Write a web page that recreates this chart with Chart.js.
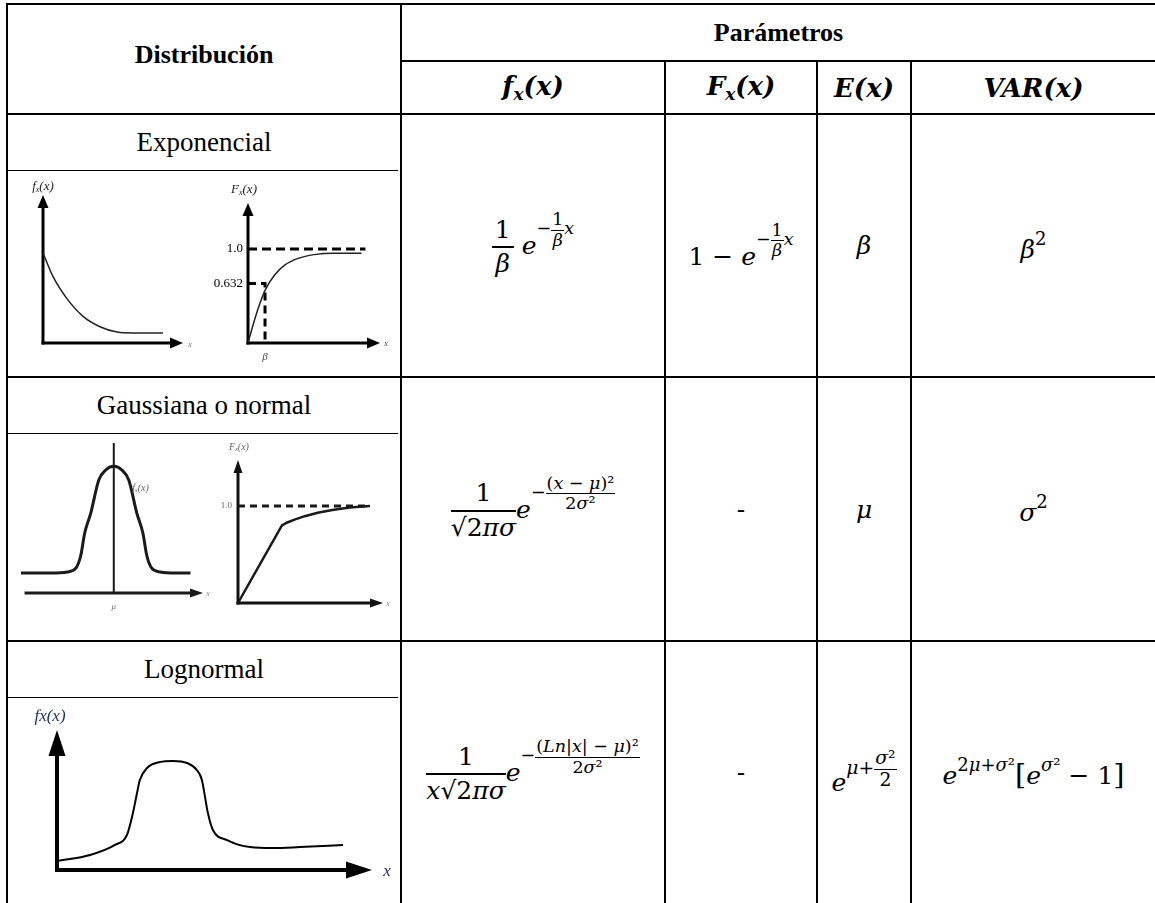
<!DOCTYPE html>
<html>
<head>
<meta charset="utf-8">
<script src="https://cdn.jsdelivr.net/npm/chart.js@4.4.0/dist/chart.umd.min.js"></script>
<style>
  body { margin: 0; background: #fff; width: 1155px; height: 903px; overflow: hidden; position: relative; font-family: "Liberation Serif", serif; color: #000; }
  .ln { position: absolute; background: #000; }
  .cell { position: absolute; display: flex; align-items: center; justify-content: center; text-align: center; white-space: nowrap; }
  .hd { font-weight: bold; font-size: 26px; }
  .lbl { font-size: 27px; }
  .m { font-family: "DejaVu Serif", serif; font-size: 25px; }
  .mh { font-family: "DejaVu Serif", serif; font-size: 26px; font-weight: bold; font-style: italic; }
  .mh sub { font-size: 0.65em; vertical-align: -0.3em; }
  .fr { display: inline-flex; flex-direction: column; vertical-align: middle; text-align: center; line-height: 1.3; }
  .fr > span:first-child { border-bottom: 2px solid #000; padding: 0 3px; }
  .sup { display: inline-block; font-size: 0.7em; vertical-align: 1.1em; }
  .sup .fr { line-height: 1.1; }
  .sup .fr > span:first-child { border-bottom-width: 1.5px; padding: 0 1px; }
  .sp { display: inline-block; font-size: 0.72em; vertical-align: 0.7em; }
  .ov { border-top: 1.5px solid #000; padding-top: 1px; }
  .big { font-size: 1.15em; }
  canvas { position: absolute; }
</style>
</head>
<body>
<!-- grid lines -->
<div class="ln" style="left:6px;top:3px;width:1149px;height:2px"></div>
<div class="ln" style="left:400px;top:60px;width:755px;height:2px"></div>
<div class="ln" style="left:6px;top:113px;width:1149px;height:2px"></div>
<div class="ln" style="left:6px;top:376px;width:1149px;height:2px"></div>
<div class="ln" style="left:6px;top:640px;width:1149px;height:2px"></div>
<div class="ln" style="left:6px;top:170px;width:392px;height:1px"></div>
<div class="ln" style="left:6px;top:433px;width:392px;height:1px"></div>
<div class="ln" style="left:6px;top:697px;width:392px;height:1px"></div>
<div class="ln" style="left:6px;top:3px;width:2px;height:900px"></div>
<div class="ln" style="left:400px;top:3px;width:2px;height:900px"></div>
<div class="ln" style="left:664px;top:60px;width:2px;height:843px"></div>
<div class="ln" style="left:816px;top:60px;width:2px;height:843px"></div>
<div class="ln" style="left:910px;top:60px;width:2px;height:843px"></div>

<!-- headers -->
<div class="cell hd" style="left:8px;top:5px;width:392px;height:100px">Distribución</div>
<div class="cell hd" style="left:402px;top:5px;width:753px;height:55px">Parámetros</div>
<div class="cell mh" style="left:402px;top:62px;width:262px;height:51px"><span>f<sub>x</sub>(x)</span></div>
<div class="cell mh" style="left:666px;top:62px;width:150px;height:51px"><span>F<sub>x</sub>(x)</span></div>
<div class="cell mh" style="left:818px;top:62px;width:92px;height:51px"><span>E(x)</span></div>
<div class="cell mh" style="left:912px;top:62px;width:243px;height:51px"><span>VAR(x)</span></div>

<!-- row labels -->
<div class="cell lbl" id="lab0" style="left:8px;top:115px;width:392px;height:55px"></div>
<div class="cell lbl" id="lab1" style="left:8px;top:378px;width:392px;height:55px"></div>
<div class="cell lbl" id="lab2" style="left:8px;top:642px;width:392px;height:55px"></div>

<!-- row 1: exponencial -->
<div class="cell m" style="left:402px;top:115px;width:262px;height:261px">
  <span><span class="fr"><span>1</span><span><i>β</i></span></span>&nbsp;<i>e</i><span class="sup">−<span class="fr"><span>1</span><span><i>β</i></span></span><i>x</i></span></span>
</div>
<div class="cell m" style="left:666px;top:115px;width:150px;height:261px">
  <span>1 − <i>e</i><span class="sup">−<span class="fr"><span>1</span><span><i>β</i></span></span><i>x</i></span></span>
</div>
<div class="cell m" style="left:818px;top:115px;width:92px;height:261px"><i>β</i></div>
<div class="cell m" style="left:912px;top:115px;width:243px;height:261px"><span><i>β</i><span class="sp">2</span></span></div>

<!-- row 2: gaussiana -->
<div class="cell m" style="left:402px;top:378px;width:262px;height:262px">
  <span><span class="fr"><span>1</span><span>√<span class="ov">2<i>π</i></span><i>σ</i></span></span><i>e</i><span class="sup">−<span class="fr"><span>(<i>x</i> − <i>μ</i>)²</span><span>2<i>σ</i>²</span></span></span></span>
</div>
<div class="cell m" style="left:666px;top:378px;width:150px;height:262px">-</div>
<div class="cell m" style="left:818px;top:378px;width:92px;height:262px"><i>μ</i></div>
<div class="cell m" style="left:912px;top:378px;width:243px;height:262px"><span><i>σ</i><span class="sp">2</span></span></div>

<!-- row 3: lognormal -->
<div class="cell m" style="left:402px;top:642px;width:262px;height:261px">
  <span><span class="fr"><span>1</span><span><i>x</i>√<span class="ov">2<i>π</i></span><i>σ</i></span></span><i>e</i><span class="sup">−<span class="fr"><span>(<i>Ln</i>|<i>x</i>| − <i>μ</i>)²</span><span>2<i>σ</i>²</span></span></span></span>
</div>
<div class="cell m" style="left:666px;top:642px;width:150px;height:261px">-</div>
<div class="cell m" style="left:818px;top:642px;width:92px;height:261px">
  <span><i>e</i><span class="sup" style="font-size:0.75em;vertical-align:0.9em"><i>μ</i>+<span class="fr"><span><i>σ</i>²</span><span>2</span></span></span></span>
</div>
<div class="cell m" style="left:912px;top:642px;width:243px;height:261px">
  <span><i>e</i><span class="sp">2<i>μ</i>+<i>σ</i>²</span><span class="big">[</span><i>e</i><span class="sp"><i>σ</i>²</span> − 1<span class="big">]</span></span>
</div>

<canvas id="expPdf" width="185" height="183" style="left:10px;top:172px"></canvas>
<canvas id="expCdf" width="200" height="197" style="left:200px;top:172px"></canvas>
<canvas id="gaussPdf" width="205" height="190" style="left:10px;top:435px"></canvas>
<canvas id="gaussCdf" width="195" height="195" style="left:205px;top:430px"></canvas>
<canvas id="logPdf" width="390" height="195" style="left:10px;top:700px"></canvas>

<script>
const distributions = ["Exponencial", "Gaussiana o normal", "Lognormal"];

// exponencial
const expPdfX = [0, 0.71, 1.71, 2.86, 4.07, 5.29, 6.43, 8.57];
const expPdfY = [0.61, 0.45, 0.30, 0.18, 0.11, 0.074, 0.068, 0.068];
const expCdfX = [0, 0.4, 0.8, 1.29, 2, 2.8, 3.8, 5, 6.5, 8.6];
const expCdfY = [0, 0.2, 0.38, 0.56, 0.72, 0.83, 0.9, 0.94, 0.955, 0.955];
const expTickValues = [1.0, 0.632];
const expTickLabels = ["1.0", "0.632"];
const betaX = 1.29;
const expLimitX = [0, 8.9];

// gaussiana
const gaussPdfX = [-5.2, -3.5, -2.6, -2.1, -1.85, -1.63, -1.29, -0.84, -0.45, 0, 0.45, 0.84, 1.29, 1.63, 1.85, 2.1, 2.6, 3.5, 4.3];
const gaussPdfY = [0.133, 0.133, 0.14, 0.17, 0.25, 0.40, 0.533, 0.753, 0.82, 0.845, 0.82, 0.753, 0.533, 0.40, 0.25, 0.17, 0.14, 0.133, 0.133];
const gaussCdfX = [0, 3.03, 3.4, 3.9, 4.6, 5.5, 6.5, 7.7, 9.1];
const gaussCdfY = [0, 0.80, 0.83, 0.86, 0.895, 0.93, 0.958, 0.985, 1.0];
const gaussLimitX = [0, 9.1];

// lognormal
const logPdfX = [0, 1.05, 1.84, 2.22, 2.41, 2.54, 2.63, 2.86, 3.27, 3.68, 4.13, 4.44, 4.60, 4.70, 4.79, 4.95, 5.40, 6.13, 6.86, 7.71, 9.08];
const logPdfY = [0.064, 0.107, 0.179, 0.25, 0.407, 0.55, 0.643, 0.729, 0.771, 0.779, 0.764, 0.714, 0.643, 0.521, 0.407, 0.286, 0.214, 0.164, 0.157, 0.164, 0.179];

distributions.forEach((d, i) => { document.getElementById("lab" + i).textContent = d; });

function pts(xs, ys) {
  return xs.map((x, i) => ({ x: x, y: ys[i] }));
}

function drawParts(ctx, parts, px, py, align) {
  let w = 0;
  parts.forEach(p => { ctx.font = p.font; w += ctx.measureText(p.t).width; });
  let cx = align === "right" ? px - w : align === "left" ? px : px - w / 2;
  parts.forEach(p => {
    ctx.font = p.font;
    ctx.fillText(p.t, cx, py + (p.dy || 0));
    cx += ctx.measureText(p.t).width;
  });
}

function fnLabel(letter, size) {
  const f = `italic ${size}px "Liberation Serif"`;
  const s = `italic ${Math.round(size * 0.6)}px "Liberation Serif"`;
  return [{ t: letter, font: f }, { t: "x", font: s, dy: size * 0.2 }, { t: "(x)", font: f }];
}

const sketchAxes = {
  id: "sketchAxes",
  beforeDatasetsDraw(chart, args, o) {
    const { ctx, chartArea: a, scales } = chart;
    const x0 = scales.x.getPixelForValue(0);
    const y0 = scales.y.getPixelForValue(0);
    const xs = o.xFrom != null ? scales.x.getPixelForValue(o.xFrom) : x0 - o.lw / 2;
    ctx.save();
    ctx.strokeStyle = o.color;
    ctx.fillStyle = o.color;
    ctx.lineWidth = o.lw;
    ctx.beginPath();
    ctx.moveTo(xs, y0);
    ctx.lineTo(a.right - o.al + 1, y0);
    ctx.stroke();
    ctx.beginPath();
    ctx.moveTo(a.right, y0);
    ctx.lineTo(a.right - o.al, y0 - o.aw / 2);
    ctx.lineTo(a.right - o.al, y0 + o.aw / 2);
    ctx.closePath();
    ctx.fill();
    if (o.yArrow) {
      ctx.beginPath();
      ctx.moveTo(x0, y0 + o.lw / 2);
      ctx.lineTo(x0, a.top + o.al - 1);
      ctx.stroke();
      ctx.beginPath();
      ctx.moveTo(x0, a.top);
      ctx.lineTo(x0 - o.aw / 2, a.top + o.al);
      ctx.lineTo(x0 + o.aw / 2, a.top + o.al);
      ctx.closePath();
      ctx.fill();
    }
    ctx.restore();
  },
  afterDatasetsDraw(chart, args, o) {
    const { ctx, scales } = chart;
    ctx.save();
    ctx.textBaseline = "middle";
    (o.labels || []).forEach(l => {
      const px = scales.x.getPixelForValue(l.x) + (l.dx || 0);
      const py = scales.y.getPixelForValue(l.y) + (l.dy || 0);
      ctx.fillStyle = l.color || o.color;
      const parts = l.parts || [{ t: l.text, font: l.font }];
      drawParts(ctx, parts, px, py, l.align || "center");
    });
    ctx.restore();
  }
};

function makeChart(id, datasets, box, axes) {
  return new Chart(document.getElementById(id), {
    type: "line",
    data: { datasets: datasets },
    options: {
      responsive: false,
      animation: false,
      events: [],
      layout: { padding: box.padding },
      elements: { point: { radius: 0 } },
      scales: {
        x: { type: "linear", display: false, min: box.xMin, max: box.xMax },
        y: { type: "linear", display: false, min: 0, max: box.yMax }
      },
      plugins: { legend: { display: false }, tooltip: { enabled: false }, sketchAxes: axes }
    },
    plugins: [sketchAxes]
  });
}

function curve(xs, ys, color, width, extra) {
  return Object.assign({
    data: pts(xs, ys),
    borderColor: color,
    borderWidth: width,
    cubicInterpolationMode: "monotone",
    clip: false,
    fill: false
  }, extra || {});
}

const tickFont = '13px "Liberation Serif"';

// exponencial f(x)
makeChart("expPdf", [curve(expPdfX, expPdfY, "#222", 1.5)],
  { padding: { left: 33, right: 12, top: 23, bottom: 12 }, xMin: 0, xMax: 10, yMax: 1 },
  {
    color: "#000", lw: 3, al: 13, aw: 11, yArrow: true,
    labels: [
      { x: 0, y: 1, dy: -8, parts: fnLabel("f", 13), color: "#222" },
      { x: 10, y: 0, dx: 7, dy: 2, text: "x", font: 'italic 8px "Liberation Serif"', color: "#777" }
    ]
  });

// exponencial F(x)
makeChart("expCdf", [
    curve(expCdfX, expCdfY, "#222", 1.5),
    curve(expLimitX, [expTickValues[0], expTickValues[0]], "#000", 3, { borderDash: [9, 5] }),
    curve([0, betaX, betaX], [expTickValues[1], expTickValues[1], 0], "#000", 3, { borderDash: [8, 5], cubicInterpolationMode: "default", tension: 0 })
  ],
  { padding: { left: 48, right: 20, top: 31, bottom: 26 }, xMin: 0, xMax: 10, yMax: 1.489 },
  {
    color: "#000", lw: 3, al: 13, aw: 11, yArrow: true,
    labels: [
      { x: 0, y: 1.489, dy: -13, dx: -4, parts: fnLabel("F", 13), color: "#222" },
      { x: 0, y: expTickValues[0], dx: -5, text: expTickLabels[0], font: tickFont, align: "right" },
      { x: 0, y: expTickValues[1], dx: -5, text: expTickLabels[1], font: tickFont, align: "right" },
      { x: betaX, y: 0, dy: 14, text: "β", font: 'italic 11px "Liberation Serif"', color: "#444" },
      { x: 10, y: 0, dx: 6, dy: 1, text: "x", font: 'italic 9px "Liberation Serif"', color: "#555" }
    ]
  });

// gaussiana f(x)
makeChart("gaussPdf", [
    curve(gaussPdfX, gaussPdfY, "#1a1a1a", 3),
    curve([0, 0], [0, 1], "#1a1a1a", 2, { tension: 0 })
  ],
  { padding: { left: 11, right: 12, top: 8, bottom: 32 }, xMin: -5.2, xMax: 5, yMax: 1 },
  {
    color: "#1a1a1a", lw: 3, al: 13, aw: 9, yArrow: false, xFrom: -5,
    labels: [
      { x: 1.5, y: 0.70, parts: fnLabel("f", 10), color: "#666" },
      { x: 0, y: 0, dy: 14, text: "μ", font: 'italic 9px "Liberation Serif"', color: "#777" },
      { x: 5, y: 0, dx: 5, dy: 1, text: "x", font: 'italic 8px "Liberation Serif"', color: "#888" }
    ]
  });

// gaussiana F(x)
makeChart("gaussCdf", [
    curve(gaussCdfX, gaussCdfY, "#1a1a1a", 2.5, { cubicInterpolationMode: "default", tension: 0 }),
    curve(gaussLimitX, [1, 1], "#1a1a1a", 3, { borderDash: [7, 5] })
  ],
  { padding: { left: 33, right: 17, top: 30, bottom: 22 }, xMin: 0, xMax: 10, yMax: 1.474 },
  {
    color: "#111", lw: 3, al: 13, aw: 9, yArrow: true,
    labels: [
      { x: 0, y: 1.474, dy: -13, dx: 1, parts: fnLabel("F", 10), color: "#666" },
      { x: 0, y: 1, dx: -6, text: "1.0", font: '9px "Liberation Serif"', color: "#666", align: "right" },
      { x: 10, y: 0, dx: 5, dy: 1, text: "x", font: 'italic 8px "Liberation Serif"', color: "#888" }
    ]
  });

// lognormal f(x)
makeChart("logPdf", [curve(logPdfX, logPdfY, "#000", 2)],
  { padding: { left: 47, right: 28, top: 30, bottom: 25 }, xMin: 0, xMax: 10, yMax: 1 },
  {
    color: "#000", lw: 4, al: 26, aw: 17, yArrow: true,
    labels: [
      { x: 0, y: 1, dy: -13, dx: -7, color: "#1f3560",
        parts: [{ t: "fx(x)", font: 'italic 17px "Liberation Serif"' }] },
      { x: 10, y: 0, dx: 15, dy: 2, text: "x", font: 'italic 17px "Liberation Serif"', color: "#1f3560" }
    ]
  });
</script>
</body>
</html>
